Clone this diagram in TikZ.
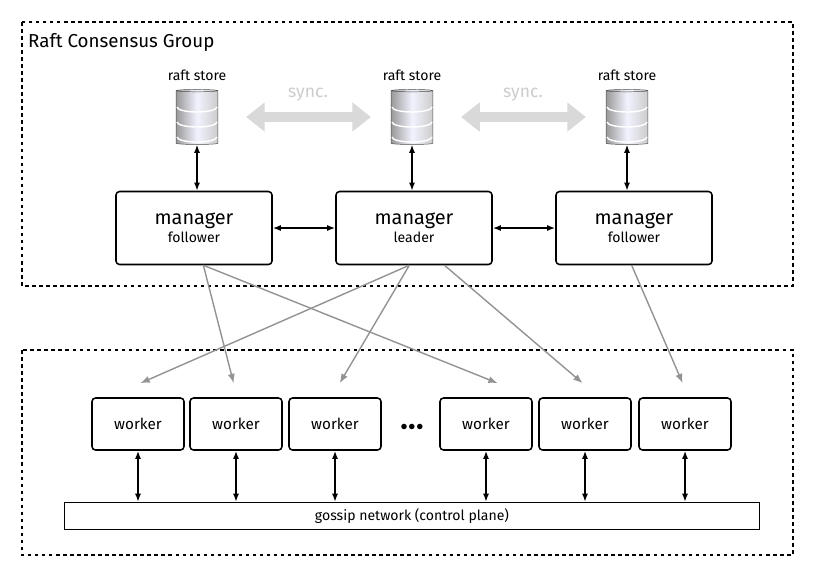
\documentclass[tikz,border=0pt]{standalone}
\usepackage{fontspec}
\setmainfont{Fira Sans}
\usetikzlibrary{positioning}
\usetikzlibrary{shapes.geometric}
\usetikzlibrary{arrows.meta}

\tikzset{
	group/.style={draw, line width=1.2pt, dashed},
	mgr/.style={draw, line width=1.3pt, rounded corners=3pt, minimum width=156*0.03cm, minimum height=73*0.03cm, align=center},
	wrk/.style={draw, line width=1.3pt, rounded corners=3pt, minimum width=92*0.03cm, minimum height=52*0.03cm, font=\fontsize{13}{15}\selectfont},
	store/.style={cylinder, shape border rotate=90, aspect=0.3, minimum width=1.25cm, minimum height=1.65cm, draw=gray!60!black, left color=gray!80, right color=gray!40, middle color=blue!5},
	link/.style={line width=1.3pt, {Latex[length=7pt]}-{Latex[length=7pt]}},
	sync/.style={line width=9pt, gray!30, {Triangle[length=16pt, width=24pt]}-{Triangle[length=16pt, width=24pt]}},
	fan/.style={gray!85, line width=1.2pt, -{Latex[length=8pt]}}
}

\begin{document}
\begin{tikzpicture}[x=0.03cm, y=-0.03cm]
	\useasboundingbox (0,0) rectangle (816,576);
	\draw[group] (22,22) rectangle (793,286);
	\draw[group] (22,350) rectangle (793,555);
	\node[anchor=west, font=\fontsize{16}{18}\selectfont] (title) at (24,42) {Raft Consensus Group};

	% raft stores
	\foreach \i/\x in {1/197, 2/412, 3/627} {
		\node[store] (s\i) at (\x,118) {};
		\foreach \yy in {107,122,137}
			\draw[white, line width=1.2pt] (\x-20,\yy) arc[start angle=180, end angle=360, x radius=20, y radius=-5];
		\node[font=\fontsize{12}{14}\selectfont] (l\i) at (\x,75) {raft store};
	}
	\draw[sync] (246,117) -- (371,117);
	\draw[sync] (461,117) -- (586,117);
	\node[gray!40, font=\fontsize{15}{17}\selectfont] (y1) at (308,95) {sync.};
	\node[gray!40, font=\fontsize{15}{17}\selectfont] (y2) at (523,95) {sync.};

	% managers
	\node[mgr] (m1) at (194,228) {{\fontsize{17}{19}\selectfont manager}\\[2pt] {\fontsize{12}{14}\selectfont follower}};
	\node[mgr] (m2) at (414,228) {{\fontsize{17}{19}\selectfont manager}\\[2pt] {\fontsize{12}{14}\selectfont leader}};
	\node[mgr] (m3) at (634,228) {{\fontsize{17}{19}\selectfont manager}\\[2pt] {\fontsize{12}{14}\selectfont follower}};
	\foreach \i in {1,2,3}
		\draw[link] (s\i) -- (s\i |- m\i.north);
	\draw[link] (m1) -- (m2);
	\draw[link] (m2) -- (m3);

	% workers
	\foreach \i/\x in {1/138, 2/236, 3/335, 4/486, 5/585, 6/685}
		\node[wrk] (w\i) at (\x,424) {worker};
	\node[font=\large] (dots) at (412,427) {$\bullet\!\bullet\!\bullet$};
	\node[draw, line width=1.2pt, minimum width=695*0.03cm, minimum height=27*0.03cm, font=\fontsize{12}{14}\selectfont] (gossip) at (412,516) {gossip network (control plane)};
	\foreach \i in {1,...,6}
		\draw[link] (w\i) -- (w\i |- gossip.north);

	% fan out
	\draw[fan] ([xshift=8]m1.south) -- ([xshift=-2, yshift=12]w2.north);
	\draw[fan] ([xshift=8]m1.south) -- ([xshift=10, yshift=12]w4.north);
	\draw[fan] ([xshift=-4]m2.south) -- ([xshift=2, yshift=12]w1.north);
	\draw[fan] ([xshift=-4]m2.south) -- ([xshift=4, yshift=12]w3.north);
	\draw[fan] ([xshift=26]m2.south) -- ([xshift=-2, yshift=12]w5.north);
	\draw[fan] ([xshift=-2]m3.south) -- ([xshift=-2, yshift=12]w6.north);
\end{tikzpicture}
\end{document}
